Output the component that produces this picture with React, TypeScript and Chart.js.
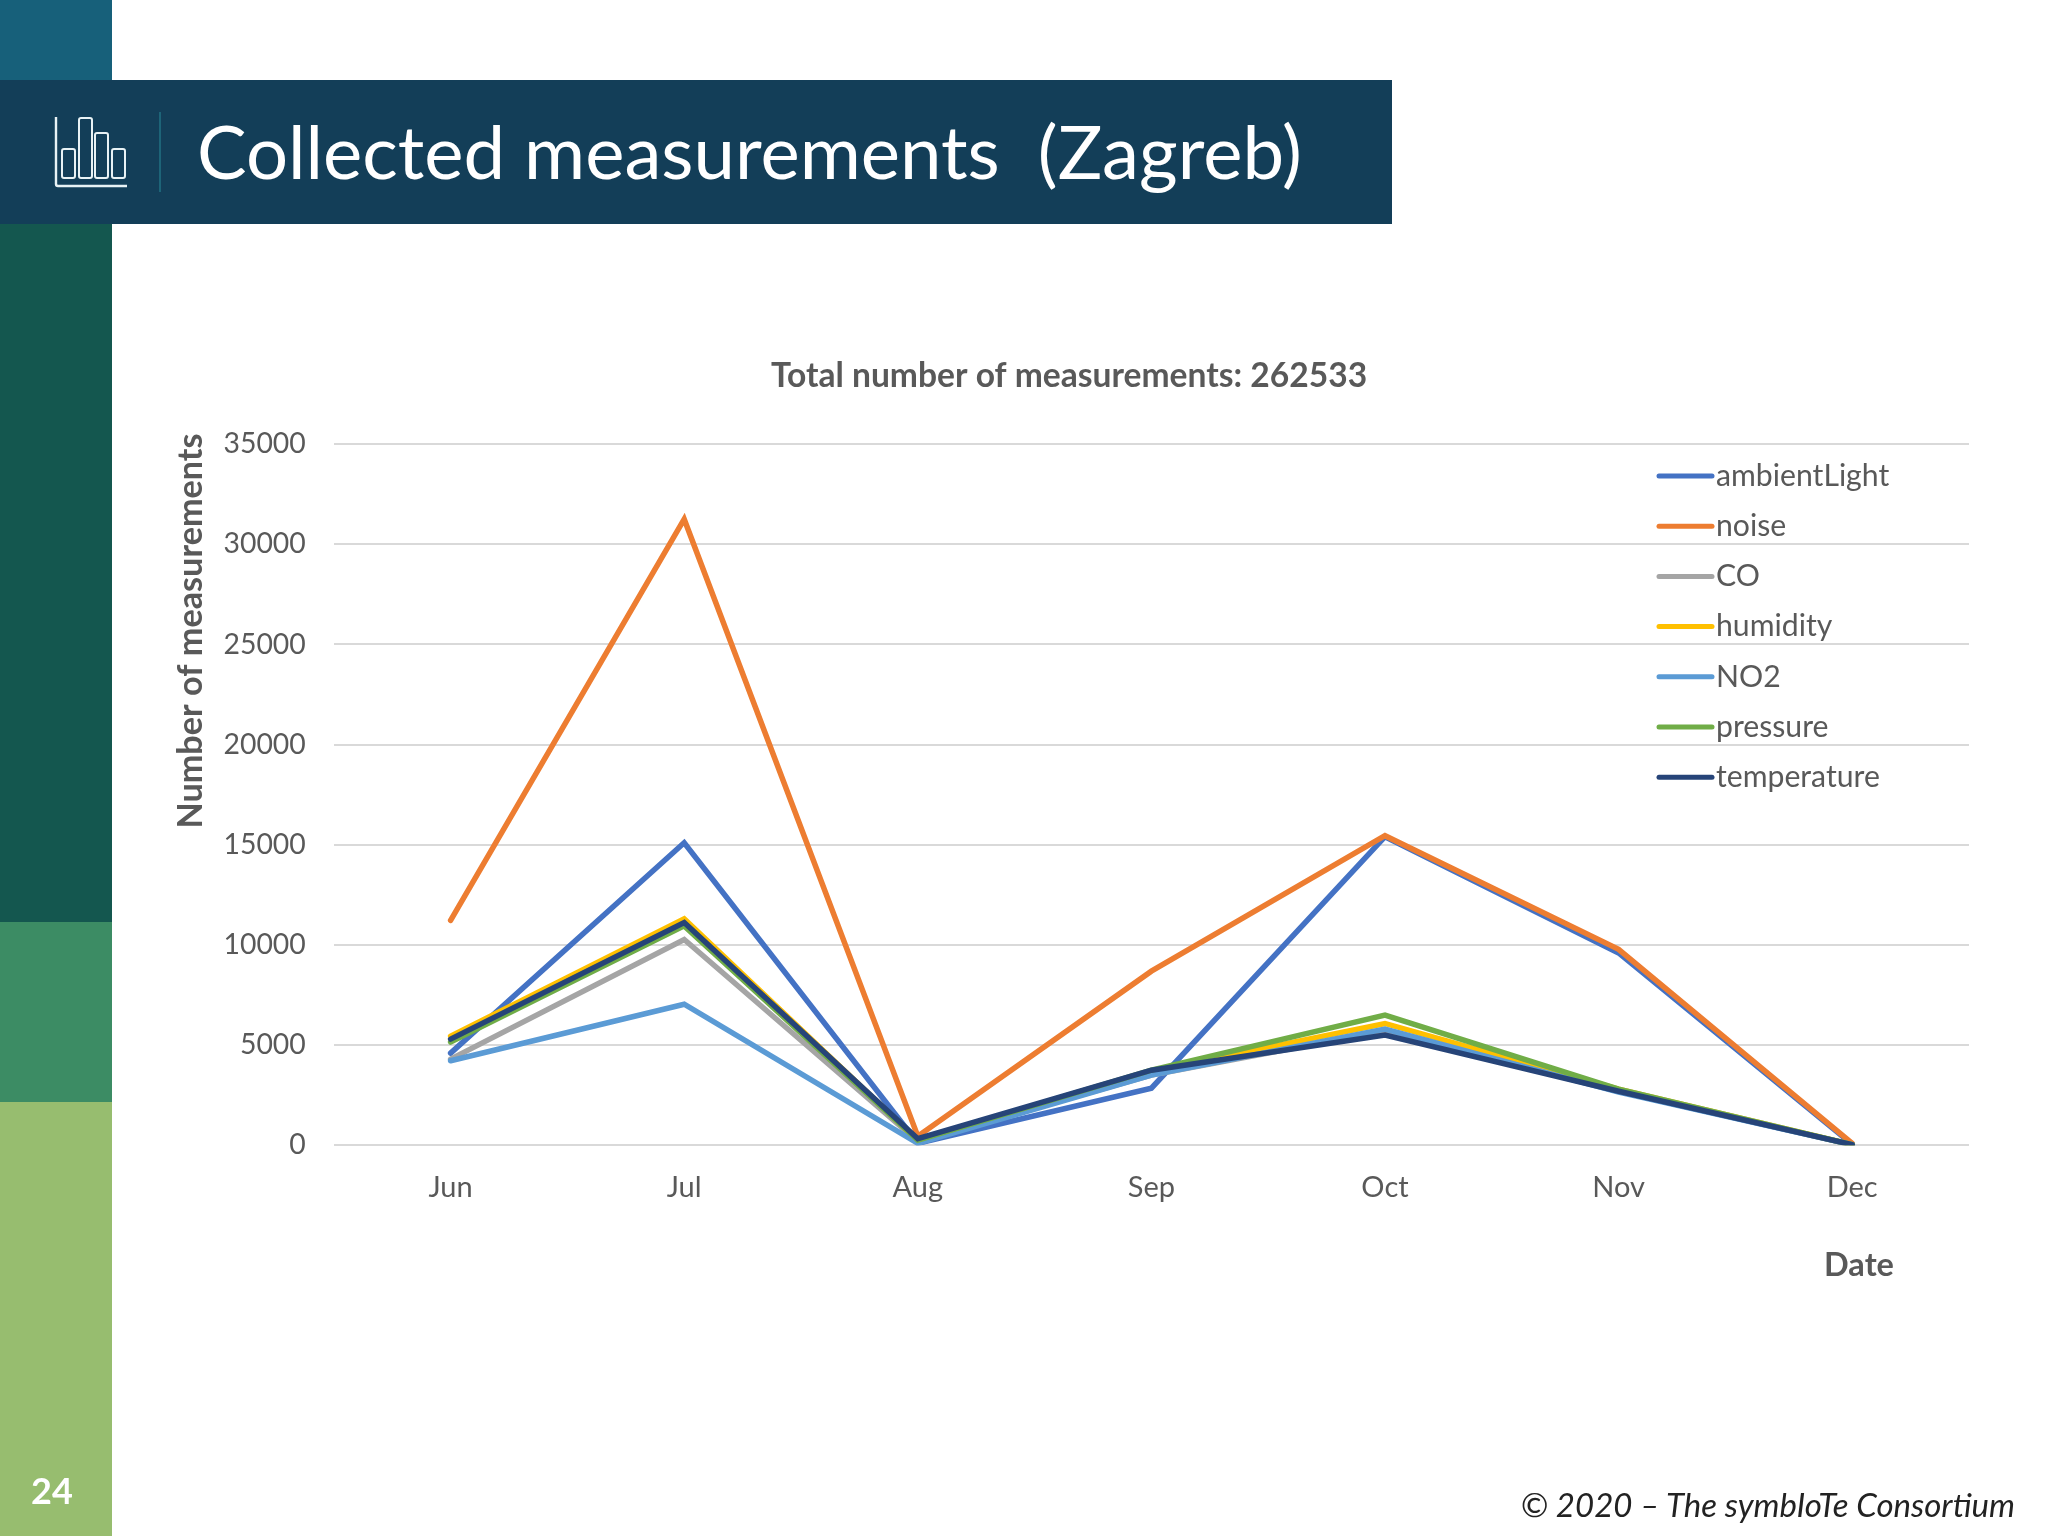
import { useEffect, useRef } from 'react';
import { Chart, registerables } from 'chart.js';

Chart.register(...registerables);

const months = ['Jun', 'Jul', 'Aug', 'Sep', 'Oct', 'Nov', 'Dec'];
const seriesNames = ['ambientLight', 'noise', 'CO', 'humidity', 'NO2', 'pressure', 'temperature'];
const seriesColors = ['#4472c4', '#ed7d31', '#a5a5a5', '#ffc000', '#5b9bd5', '#70ad47', '#264478'];

const ambientLight = [4600, 15100, 100, 2850, 15400, 9600, 50];
const noise = [11230, 31250, 450, 8690, 15450, 9780, 100];
const co = [4300, 10270, 200, 3500, 5700, 2700, 30];
const humidity = [5450, 11300, 250, 3700, 6080, 2800, 30];
const no2 = [4220, 7040, 100, 3500, 5800, 2650, 30];
const pressure = [5150, 10950, 250, 3750, 6500, 2800, 30];
const temperature = [5300, 11120, 330, 3750, 5500, 2700, 30];
const allSeries = [ambientLight, noise, co, humidity, no2, pressure, temperature];

const textColor = '#595959';
const fontFamily = 'Lato, sans-serif';

// axis titles and the legend sit where Excel put them, not where Chart.js would
const slideExtras = {
  id: 'slideExtras',
  afterDraw(chart: Chart) {
    const { ctx } = chart;
    ctx.save();
    ctx.fillStyle = textColor;
    ctx.textBaseline = 'middle';

    ctx.font = `bold 32.5px ${fontFamily}`;
    ctx.textAlign = 'center';
    ctx.fillText('Date', 1859, 1266);
    ctx.save();
    ctx.font = `bold 34.2px ${fontFamily}`;
    ctx.translate(191, 631);
    ctx.rotate(-Math.PI / 2);
    ctx.fillText('Number of measurements', 0, 0);
    ctx.restore();

    ctx.font = `30.2px ${fontFamily}`;
    ctx.textAlign = 'left';
    chart.data.datasets.forEach((ds, i) => {
      const y = 476 + i * 50.2;
      ctx.strokeStyle = ds.borderColor as string;
      ctx.lineWidth = 5;
      ctx.lineCap = 'round';
      ctx.beginPath();
      ctx.moveTo(1659, y);
      ctx.lineTo(1712, y);
      ctx.stroke();
      ctx.fillStyle = textColor;
      ctx.fillText(ds.label as string, 1716, y);
    });
    ctx.restore();
  },
};

function MeasurementsChart() {
  const canvasRef = useRef<HTMLCanvasElement | null>(null);

  useEffect(() => {
    if (!canvasRef.current) return;
    const chart = new Chart(canvasRef.current, {
      type: 'line',
      data: {
        labels: months,
        datasets: seriesNames.map((name, i) => ({
          label: name,
          data: allSeries[i],
          borderColor: seriesColors[i],
          backgroundColor: seriesColors[i],
          borderWidth: 5.5,
          borderCapStyle: 'round' as const,
          pointRadius: 0,
          tension: 0,
          order: seriesNames.length - i,
        })),
      },
      options: {
        responsive: false,
        animation: false,
        devicePixelRatio: 1,
        // left padding keeps the title centred where the slide has it
        layout: { padding: { top: 0, left: 169, right: 79, bottom: 330.7 } },
        plugins: {
          legend: { display: false },
          tooltip: { enabled: false },
          title: {
            display: true,
            text: 'Total number of measurements: 262533',
            color: textColor,
            font: { family: fontFamily, size: 33.6, weight: 'bold', lineHeight: 1.2 },
            padding: { top: 356, bottom: 47.7 },
          },
        },
        scales: {
          x: {
            offset: true,
            afterFit: (scale) => {
              scale.height = 60;
            },
            grid: { display: false, drawTicks: false },
            border: { display: false },
            ticks: { color: textColor, font: { family: fontFamily, size: 29 }, padding: 25 },
          },
          y: {
            min: 0,
            max: 35000,
            afterFit: (scale) => {
              scale.width = 164.8;
            },
            grid: { color: '#d9d9d9', lineWidth: 2, drawTicks: false },
            border: { display: false },
            ticks: {
              stepSize: 5000,
              color: textColor,
              font: { family: fontFamily, size: 28.4 },
              padding: 28,
              callback: (value) => String(value),
            },
          },
        },
      },
      plugins: [slideExtras],
    });

    return () => {
      chart.destroy();
    };
  }, []);

  return (
    <canvas
      ref={canvasRef}
      width={2048}
      height={1536}
      style={{ position: 'absolute', left: 0, top: 0, width: 2048, height: 1536 }}
    />
  );
}

const block = (top: number, height: number, background: string): React.CSSProperties => ({
  position: 'absolute',
  left: 0,
  top,
  width: 112,
  height,
  background,
});

export default function App() {
  return (
    <div style={{ position: 'absolute', left: 0, top: 0, width: 2048, height: 1536, background: '#fff', overflow: 'hidden', fontFamily }}>
      <div style={block(0, 80, '#17607a')} />
      <div style={block(224, 698, '#14574f')} />
      <div style={block(922, 180, '#3c8c64')} />
      <div style={block(1102, 434, '#97bd6f')} />
      <div style={{ position: 'absolute', left: 0, top: 80, width: 1392, height: 144, background: '#133e58' }} />
      <svg width={200} height={144} style={{ position: 'absolute', left: 0, top: 80 }}>
        <g fill="none" stroke="#e8f2f5" strokeWidth={2}>
          <path d="M56 37V104a2 2 0 0 0 2 2H127" strokeWidth={2.4} />
          <rect x={62} y={69} width={13} height={29} rx={2} />
          <rect x={79} y={38} width={13} height={60} rx={2} />
          <rect x={95} y={53} width={13} height={45} rx={2} />
          <rect x={112} y={69} width={13} height={29} rx={2} />
        </g>
        <line x1={160} y1={32} x2={160} y2={112} stroke="#1d6478" strokeWidth={2} />
      </svg>
      <div style={{ position: 'absolute', left: 197, top: 99, fontSize: 74.3, lineHeight: '104px', color: '#fff', whiteSpace: 'pre' }}>
        Collected measurements  (Zagreb)
      </div>
      <MeasurementsChart />
      <div style={{ position: 'absolute', left: 31, top: 1468, fontSize: 36, lineHeight: '44px', fontWeight: 700, color: '#fff' }}>24</div>
      <div style={{ position: 'absolute', right: 33, top: 1486, fontSize: 33, lineHeight: '36px', fontStyle: 'italic', color: '#222', whiteSpace: 'pre' }}>
        © 2020 – The symbIoTe Consortium
      </div>
    </div>
  );
}
